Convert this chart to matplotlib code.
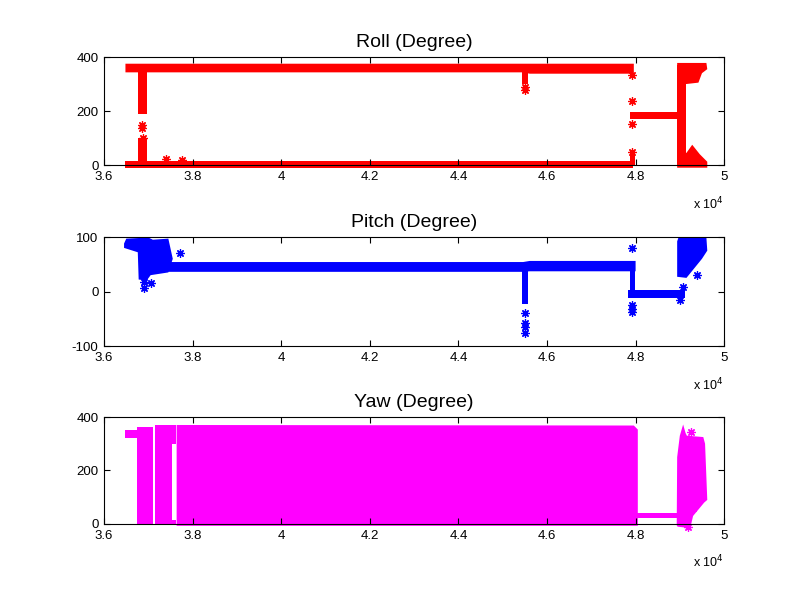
## Roll / pitch / yaw traces, MATLAB style subplots

import matplotlib
matplotlib.use('Agg')
import matplotlib.pyplot as plt

plt.rcParams['font.family'] = ['Liberation Sans', 'DejaVu Sans']

# x axis
x_ticks = [36000, 38000, 40000, 42000, 44000, 46000, 48000, 50000]
x_labels = ['3.6', '3.8', '4', '4.2', '4.4', '4.6', '4.8', '5']

# ---------- Roll ----------
# bands: x, low, high
roll_top_x = [36470, 45450, 45600, 47950]
roll_top_lo = [345, 345, 340, 340]
roll_top_hi = [377, 377, 377, 377]
roll_bot_x = [36470, 47950]
roll_bot_lo = [-10, -10]
roll_bot_hi = [15, 15]
roll_mid_x = [47880, 49000]
roll_mid_lo = [172, 172]
roll_mid_hi = [196, 196]
# vertical spikes: x0, x1, low, high
roll_spikes = [(36760, 36960, 190, 360), (36760, 36960, 0, 100),
               (45440, 45580, 300, 350), (47870, 47990, 0, 55),
               (48930, 49150, 0, 370)]
# blobs (polygons)
roll_blob_top_x = [48940, 48940, 49600, 49620, 49500, 49420, 49150]
roll_blob_top_y = [300, 378, 378, 355, 340, 305, 300]
roll_blob_bot_x = [48940, 48940, 49150, 49280, 49450, 49620, 49620]
roll_blob_bot_y = [-10, 40, 45, 75, 40, 12, -10]
# scattered points
roll_pts_x = [36860, 36860, 36870, 37400, 37750, 45510, 45510,
              47920, 47920, 47920, 47920]
roll_pts_y = [137, 150, 100, 22, 18, 290, 277, 333, 238, 152, 49]

# ---------- Pitch ----------
pitch_main_x = [37400, 45450, 45600, 47990]
pitch_main_lo = [37, 37, 38, 38]
pitch_main_hi = [55, 55, 57, 57]
pitch_low_x = [47830, 49120]
pitch_low_lo = [-12, -12]
pitch_low_hi = [3, 3]
pitch_blob1_x = [36450, 36500, 37000, 37100, 37450, 37550, 37450, 37050,
                 36960, 36780, 36760, 36450]
pitch_blob1_y = [88, 97, 99, 95, 97, 60, 35, 30, 20, 22, 72, 80]
pitch_blob2_x = [48940, 48940, 48970, 49600, 49620, 49500, 49300, 49150]
pitch_blob2_y = [27, 92, 99, 99, 75, 60, 40, 25]
pitch_spikes = [(45440, 45570, -22, 50), (47880, 47990, -5, 55)]
pitch_pts_x = [36900, 36900, 37050, 37720, 45500, 45500, 45500, 45500,
               47920, 47920, 47920, 47920, 49075, 49390, 49010]
pitch_pts_y = [6, 18, 15, 70, -40, -58, -66, -76, 80, -25, -32, -38, 8, 30, -15]

# ---------- Yaw ----------
yaw_block_x = [37626, 47950, 48040]
yaw_block_lo = [-5, -5, -5]
yaw_block_hi = [372, 370, 355]
yaw_low_x = [48000, 48950]
yaw_low_lo = [24, 24]
yaw_low_hi = [42, 42]
yaw_start_x = [36470, 36750]
yaw_start_lo = [322, 322]
yaw_start_hi = [352, 352]
yaw_cols = [(36745, 37110, 0, 363), (37150, 37535, 0, 370),
            (37530, 37630, 300, 370), (37530, 37630, 0, 15)]
yaw_right_x = [48930, 48940, 49000, 49075, 49130, 49160, 49530, 49570,
               49620, 49550, 49300, 49250, 49200, 48950]
yaw_right_y = [-5, 250, 330, 372, 340, 330, 325, 300, 90, 80, 30, -5, -15, -10]
yaw_pts_x = [49180, 49250, 49300]
yaw_pts_y = [-10, 345, 60]


def style_axes(ax, yticks, ylim, title):
    ax.set_xlim(36000, 50000)
    ax.set_ylim(*ylim)
    ax.set_xticks(x_ticks)
    ax.set_xticklabels(x_labels)
    ax.set_yticks(yticks)
    ax.set_yticklabels([str(t) for t in yticks])
    ax.tick_params(direction='in', top=True, right=True, labelsize=9.5,
                   length=4, width=0.8, pad=4)
    for s in ax.spines.values():
        s.set_linewidth(0.8)
    ax.set_title(title, fontsize=14, pad=7)
    ax.text(1.0, -0.28, r'x 10$^{4}$', transform=ax.transAxes, ha='right',
            va='top', fontsize=9)


def band(ax, x, lo, hi, c):
    ax.fill_between(x, lo, hi, color=c, lw=0, clip_on=False)


def spikes(ax, sp, c):
    for x0, x1, lo, hi in sp:
        ax.fill_between([x0, x1], [lo, lo], [hi, hi], color=c, lw=0, clip_on=False)


def stars(ax, x, y, c):
    ax.plot(x, y, ls='none', marker=(8, 2, 0), ms=6, mew=0.9, color=c, clip_on=False)


fig = plt.figure(figsize=(8.01, 6.0), dpi=100)
ax1 = fig.add_axes([0.13, 0.725, 0.774, 0.18])
ax2 = fig.add_axes([0.13, 0.4233, 0.774, 0.1817])
ax3 = fig.add_axes([0.13, 0.1267, 0.774, 0.1783])

# roll
c = 'red'
band(ax1, roll_top_x, roll_top_lo, roll_top_hi, c)
band(ax1, roll_bot_x, roll_bot_lo, roll_bot_hi, c)
band(ax1, roll_mid_x, roll_mid_lo, roll_mid_hi, c)
spikes(ax1, roll_spikes, c)
ax1.fill(roll_blob_top_x, roll_blob_top_y, color=c, lw=0, clip_on=False)
ax1.fill(roll_blob_bot_x, roll_blob_bot_y, color=c, lw=0, clip_on=False)
stars(ax1, roll_pts_x, roll_pts_y, c)
style_axes(ax1, [0, 200, 400], (0, 400), 'Roll (Degree)')

# pitch
c = 'blue'
band(ax2, pitch_main_x, pitch_main_lo, pitch_main_hi, c)
band(ax2, pitch_low_x, pitch_low_lo, pitch_low_hi, c)
ax2.fill(pitch_blob1_x, pitch_blob1_y, color=c, lw=0)
ax2.fill(pitch_blob2_x, pitch_blob2_y, color=c, lw=0)
spikes(ax2, pitch_spikes, c)
stars(ax2, pitch_pts_x, pitch_pts_y, c)
style_axes(ax2, [-100, 0, 100], (-100, 100), 'Pitch (Degree)')

# yaw
c = '#ff00ff'
band(ax3, yaw_block_x, yaw_block_lo, yaw_block_hi, c)
band(ax3, yaw_low_x, yaw_low_lo, yaw_low_hi, c)
band(ax3, yaw_start_x, yaw_start_lo, yaw_start_hi, c)
spikes(ax3, yaw_cols, c)
ax3.fill(yaw_right_x, yaw_right_y, color=c, lw=0, clip_on=False)
stars(ax3, yaw_pts_x, yaw_pts_y, c)
style_axes(ax3, [0, 200, 400], (0, 400), 'Yaw (Degree)')

fig.savefig('out.png', dpi=100, facecolor='white')
